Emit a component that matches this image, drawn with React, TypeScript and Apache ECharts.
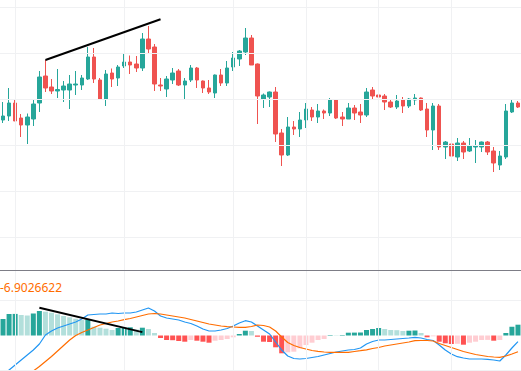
import React, { useEffect, useRef } from "react";
import * as echarts from "echarts";

// ---- data ----
const categories: string[] = Array.from({ length: 86 }, (_, i) => `B${i + 1}`);

const opens = [180, 184, 197, 182, 175, 181, 197, 224, 213, 209, 210, 210, 215, 215, 221, 243, 220, 201, 227, 222,
  234, 238, 236, 232, 261, 253, 215, 211, 220, 229, 215, 220, 232, 219, 212, 207, 225, 217, 233, 241,
  248, 262, 236, 201, 203, 208, 167, 145, 173, 171, 180, 190, 183, 189, 187, 200, 183, 181, 192, 188,
  185, 210, 205, 204, 198, 193, 200, 194, 200, 202, 191, 170, 194, 153, 156, 143, 157, 149, 153, 153,
  158, 149, 135, 143, 188, 197];
const closes = [184, 197, 179, 175, 183, 196, 223, 212, 209, 210.5, 214, 216, 216, 222, 243, 221, 201, 226, 221, 233,
  238, 235, 232, 261, 251, 216, 214, 221, 227, 215, 219, 232, 220, 212, 208, 225, 217, 232, 242, 249,
  262, 235, 204, 205, 208, 166, 145, 173, 171, 180, 191, 183, 189, 187, 200, 182, 181, 192, 187, 185,
  208, 204, 203, 198, 193, 199, 194, 201, 202, 190, 170, 194, 153, 158, 144, 157, 148, 154, 154, 158,
  148, 137, 144, 189, 197, 193];
const lows = [177, 179, 179, 163, 156, 174, 188, 208, 206, 202, 198, 191, 205, 210, 220, 217, 201, 194, 213, 214,
  232, 226, 228, 229, 247, 209, 209, 203, 216, 214, 201, 218, 212, 207, 206, 202, 214, 214, 229, 234,
  245, 235, 176, 192, 193, 158, 134, 144, 165, 163, 172, 179, 177, 181, 184, 181, 174, 181, 180, 177,
  183, 201, 200, 190, 192, 191, 187, 192, 195, 189, 163, 150, 150, 141, 128, 139, 141, 148, 137, 148,
  145, 128, 130, 141, 187, 192];
const highs = [198, 212, 201, 186, 186.5, 201, 229, 240, 221, 231, 219, 225, 229, 225, 253, 252, 222, 230, 231.5, 235,
  246, 244.5, 244, 267, 274, 256, 222, 224, 232, 231, 222, 235, 233, 219.5, 220, 225.5, 231, 239, 248, 250,
  272, 265, 236.5, 206.5, 208.5, 213, 171, 183, 179, 188, 197, 193, 196, 190.5, 202, 200.5, 188, 197, 195, 196,
  212, 213, 218, 206, 201, 205, 203, 202, 206, 202.5, 197, 197, 196, 159, 156.5, 162, 159, 162, 160, 158.5,
  159, 153, 149, 196, 200, 199];

const macdHist = [16.5, 21.5, 21.6, 20.5, 20, 22, 24.5, 23.8, 22.8, 21.2, 19.5, 18.2, 16.8, 15.5, 16.2, 8.8, 7.8, 6.8, 5.5, 7.5,
  7.8, 8.2, 6, 7.8, 6.5, 2.5, -2.5, -4.5, -4.7, -5.5, -6.2, -4.5, -5.2, -6.2, -7.2, -5.2, -4.5, -3.5, -1.8, 1.5,
  4.8, 4.5, -1.2, -6.2, -6.5, -11.8, -17.8, -16.8, -16.2, -12.8, -9.5, -7.2, -4.5, -3.5, 0.5, 0.3, 0.5, 2.8, 2.9, 3.0,
  5.5, 6.5, 7.5, 6.5, 5.5, 5.3, 4.5, 4.8, 5.0, 2.5, -1.8, -0.8, -6.2, -7.8, -8.5, -8.3, -9.2, -7.2, -6.2, -4.5,
  -4.4, -5.2, -4.5, 2.5, 8.8, 10.8];
const macdLine = [-39.5, -34.5, -29.5, -24.5, -19.5, -14.5, -8.5, 0.5, 4.5, 7.5, 9.5, 11.5, 13.5, 16.5, 20.5, 21, 21.5, 21.5, 22.5, 22,
  22.5, 22.5, 23.5, 25.5, 27.5, 24.5, 19.5, 17.5, 16.5, 15.5, 13.5, 12, 9.5, 6.5, 4.5, 4.5, 5.5, 7, 9.5, 12.5,
  14.8, 13.5, 9.5, 5.5, 1.5, -6.5, -14.5, -20.5, -23, -23.5, -23, -22, -21, -19.5, -18, -16.5, -15.5, -14.5, -14, -12.5,
  -8.5, -6, -4.5, -4.5, -4, -3.5, -3, -2.5, -1.8, -2.5, -4, -5, -9.5, -14.5, -18.5, -21.2, -22.5, -23.5, -23.5, -23.5,
  -23.8, -24.5, -25.5, -19.5, -12.5, -6.2];
const signalLine = [-59.5, -54.5, -50.5, -45.5, -40.5, -35.5, -31, -26, -21, -15.5, -10, -4.5, 0, 3, 5.5, 8, 10.5, 12, 13.5, 14.5,
  15.8, 17, 18.5, 20, 21.5, 22, 21.5, 20.5, 19.5, 18.5, 17.5, 16, 14.5, 13, 11.5, 10.5, 9.5, 8.8, 8.5, 8.2,
  8.2, 9, 10.5, 10, 8.5, 4.5, -1.5, -7, -10, -12, -13.5, -15, -15.8, -16.5, -16.8, -16.8, -16.8, -16.8, -16, -15.2,
  -14.3, -13, -12, -10.5, -9.5, -8.5, -7.5, -6.5, -5.2, -5, -5, -5.5, -8, -10, -12, -14, -16, -17.5, -19, -20,
  -21, -21.5, -21.8, -20.5, -18.5, -16.2];

const priceGridLevels = [293, 247, 201, 155, 109, 63];
const macdGridLevels = [35.5, -34.5];
const timeGridCats = ["B3", "B21", "B39", "B51", "B63", "B75"];
const priceTrend = [["B8", 240], ["B27", 280.7]];
const macdTrend = [["B7", 27.8], ["B24", 3.4]];
const legendText = "-6.9026622";

const UP = "#26a69a";
const DOWN = "#ef5350";
const GRID_COLOR = "#f0f1f3";

export default function App() {
  const ref = useRef<HTMLDivElement>(null);
  useEffect(() => {
    if (!ref.current) return;
    const chart = echarts.init(ref.current, undefined, { renderer: "svg" });
    const candleData = categories.map((_, i) => [opens[i], closes[i], lows[i], highs[i]]);
    const histData = macdHist.map((v, i) => {
      const prev = i > 0 ? macdHist[i - 1] : v;
      let color: string;
      if (v >= 0) color = v >= prev ? "#26a69a" : "#b2dfdb";
      else color = v <= prev ? "#ff5252" : "#ffcdd2";
      return { value: v, itemStyle: { color } };
    });
    const gridLineStyle = { color: GRID_COLOR, width: 1, type: "solid" as const };
    const plainMark = (data: any[], lineStyle: any) => ({
      silent: true,
      symbol: ["none", "none"],
      label: { show: false },
      lineStyle,
      emphasis: { disabled: true },
      data,
    });
    chart.setOption({
      animation: false,
      backgroundColor: "#ffffff",
      grid: [
        { left: -1, right: -4, top: 0, height: 270 },
        { left: -1, right: -4, top: 270, height: 101 },
      ],
      xAxis: [
        { type: "category", gridIndex: 0, data: categories, boundaryGap: true, show: false },
        { type: "category", gridIndex: 1, data: categories, boundaryGap: true, show: false },
      ],
      yAxis: [
        { type: "value", gridIndex: 0, min: 30, max: 300, show: false, splitLine: { show: false } },
        { type: "value", gridIndex: 1, min: -35.5, max: 65.5, show: false, splitLine: { show: false } },
      ],
      series: [
        {
          type: "line",
          xAxisIndex: 0,
          yAxisIndex: 0,
          data: [],
          z: 1,
          markLine: plainMark(
            [
              ...priceGridLevels.map((v) => ({ yAxis: v })),
              ...timeGridCats.map((c) => ({ xAxis: c })),
            ],
            gridLineStyle
          ),
        },
        {
          type: "line",
          xAxisIndex: 1,
          yAxisIndex: 1,
          data: [],
          z: 1,
          markLine: plainMark(
            [
              ...macdGridLevels.map((v) => ({ yAxis: v })),
              ...timeGridCats.map((c) => ({ xAxis: c })),
            ],
            gridLineStyle
          ),
        },
        {
          type: "candlestick",
          xAxisIndex: 0,
          yAxisIndex: 0,
          data: candleData,
          barWidth: 4,
          z: 3,
          itemStyle: {
            color: UP,
            color0: DOWN,
            borderColor: UP,
            borderColor0: DOWN,
            borderWidth: 1,
          },
          markLine: plainMark(
            [[{ coord: priceTrend[0] }, { coord: priceTrend[1] }]],
            { color: "#000000", width: 2, type: "solid" }
          ),
        },
        {
          type: "bar",
          xAxisIndex: 1,
          yAxisIndex: 1,
          data: histData,
          barWidth: 5,
          z: 3,
        },
        {
          type: "line",
          xAxisIndex: 1,
          yAxisIndex: 1,
          data: macdLine,
          symbol: "none",
          z: 4,
          lineStyle: { color: "#2196f3", width: 1.2 },
        },
        {
          type: "line",
          xAxisIndex: 1,
          yAxisIndex: 1,
          data: signalLine,
          symbol: "none",
          z: 4,
          lineStyle: { color: "#ff6d00", width: 1.2 },
          markLine: plainMark(
            [[{ coord: macdTrend[0] }, { coord: macdTrend[1] }]],
            { color: "#000000", width: 2, type: "solid" }
          ),
        },
      ],
      graphic: [
        {
          type: "line",
          shape: { x1: 0, y1: 270.5, x2: 521, y2: 270.5 },
          style: { stroke: "#7d7d86", lineWidth: 1 },
          z: 10,
        },
        {
          type: "text",
          left: 0,
          top: 281,
          style: {
            text: legendText,
            fill: "#ff6d00",
            font: "12px 'Noto Sans', sans-serif",
          },
          z: 10,
        },
      ],
    });
    return () => chart.dispose();
  }, []);
  return (
    <div
      ref={ref}
      style={{ position: "fixed", left: 0, top: 0, width: 521, height: 371 }}
    />
  );
}
